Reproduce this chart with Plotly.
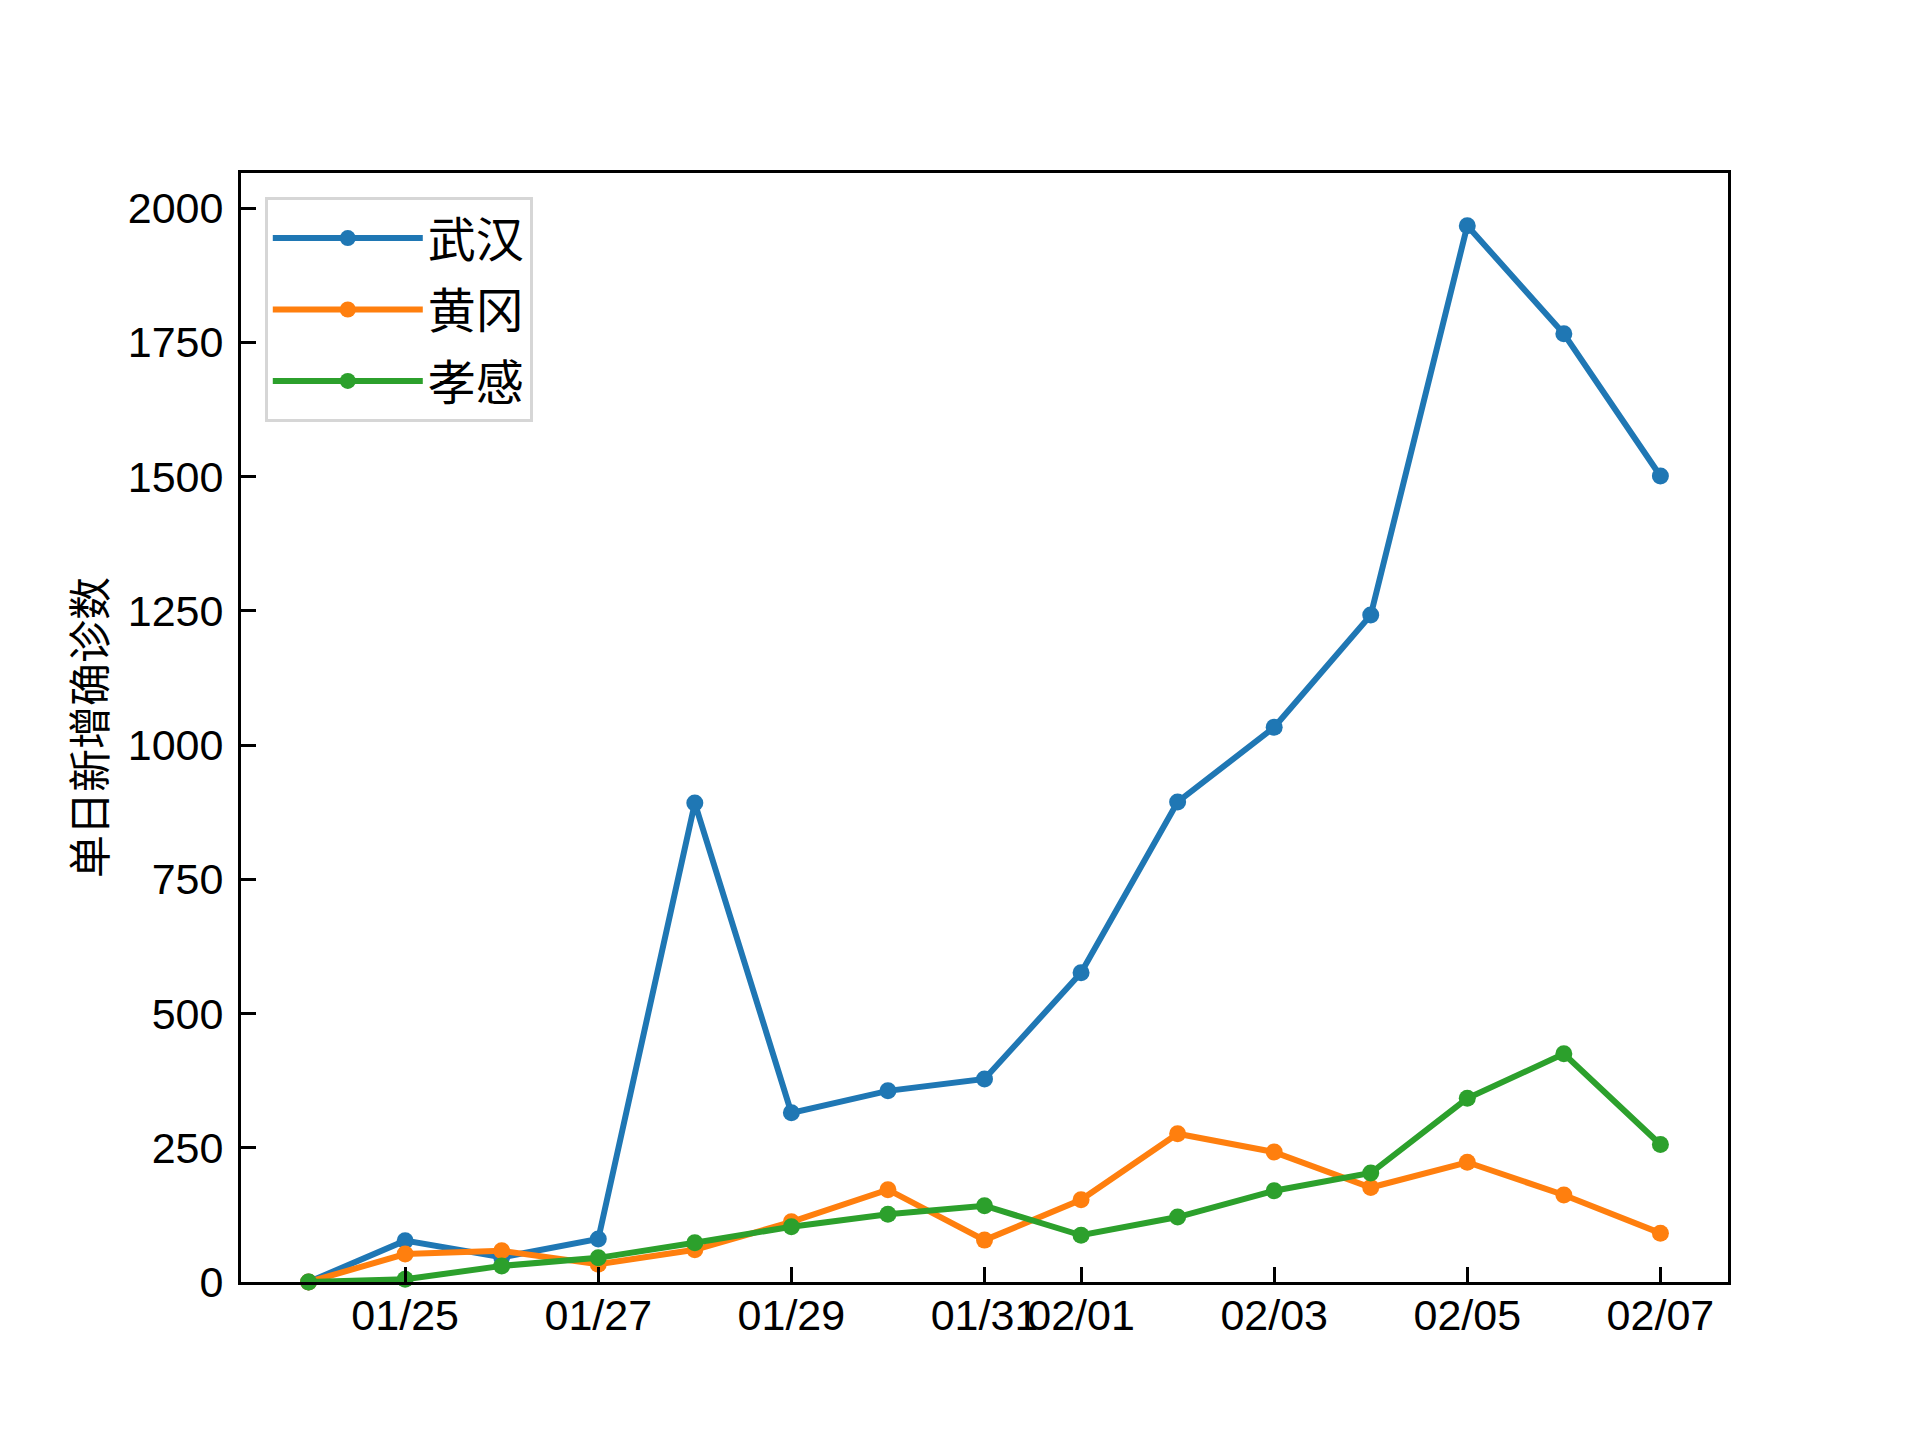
"""Daily new confirmed cases in three Hubei cities (line chart)."""

import plotly.graph_objects as go

FONT = "'Liberation Sans', Arial, 'Noto Sans CJK SC', sans-serif"
CJK = "'Noto Sans CJK SC', sans-serif"

# matplotlib tab10 defaults
_BLUE = "#1f77b4"
_ORANGE = "#ff7f0e"
_GREEN = "#2ca02c"

dates = [
    "2020-01-24", "2020-01-25", "2020-01-26", "2020-01-27", "2020-01-28",
    "2020-01-29", "2020-01-30", "2020-01-31", "2020-02-01", "2020-02-02",
    "2020-02-03", "2020-02-04", "2020-02-05", "2020-02-06", "2020-02-07",
]

wuhan = [0, 77, 46, 80, 892, 315, 356, 378, 576, 894, 1033, 1242, 1967, 1766, 1501]
huanggang = [0, 52, 58, 33, 60, 112, 172, 78, 153, 276, 242, 176, 223, 162, 91]
xiaogan = [0, 5, 30, 45, 73, 103, 126, 142, 87, 121, 170, 203, 342, 425, 256]

series = [("武汉", wuhan, _BLUE), ("黄冈", huanggang, _ORANGE), ("孝感", xiaogan, _GREEN)]

tick_dates = [
    "2020-01-25", "2020-01-27", "2020-01-29", "2020-01-31",
    "2020-02-01", "2020-02-03", "2020-02-05", "2020-02-07",
]
tick_text = ["01/25", "01/27", "01/29", "01/31", "02/01", "02/03", "02/05", "02/07"]

fig = go.Figure()
for i, (name, vals, color) in enumerate(series):
    fig.add_trace(
        go.Scatter(
            x=dates,
            y=vals,
            name=name,
            mode="lines+markers",
            line=dict(color=color, width=6),
            marker=dict(color=color, size=17),
            legendgroup=f"g{i}",
            cliponaxis=False,
        )
    )

# page body adds an 8px offset, margins compensate for it
fig.update_layout(
    width=1920,
    height=1440,
    font=dict(family=FONT, size=43, color="black"),
    plot_bgcolor="white",
    paper_bgcolor="white",
    margin=dict(l=233, r=200, t=165, b=166),
    showlegend=True,
    legend=dict(
        x=0.016,
        y=0.978,
        xanchor="left",
        yanchor="top",
        bgcolor="rgba(255,255,255,0.8)",
        bordercolor="#d6d6d6",
        borderwidth=3,
        font=dict(family=CJK, size=48, color="black"),
        tracegroupgap=6,
        itemwidth=150,
    ),
)

fig.update_xaxes(
    type="date",
    range=["2020-01-23 07:12", "2020-02-07 16:48"],
    tickvals=tick_dates,
    ticktext=tick_text,
    tickangle=0,
    ticks="inside",
    ticklen=15,
    tickwidth=3,
    tickcolor="black",
    ticklabelstandoff=-7,
    showgrid=False,
    zeroline=False,
    showline=True,
    linecolor="black",
    linewidth=3,
    mirror=True,
)
fig.update_yaxes(
    range=[0, 2065.35],
    tickvals=[0, 250, 500, 750, 1000, 1250, 1500, 1750, 2000],
    ticks="inside",
    ticklen=15,
    tickwidth=3,
    tickcolor="black",
    ticklabelstandoff=6,
    showgrid=False,
    zeroline=False,
    showline=True,
    linecolor="black",
    linewidth=3,
    mirror=True,
    title=dict(text="单日新增确诊数", font=dict(family=CJK, size=43), standoff=8),
)

fig.write_html("out.html")
